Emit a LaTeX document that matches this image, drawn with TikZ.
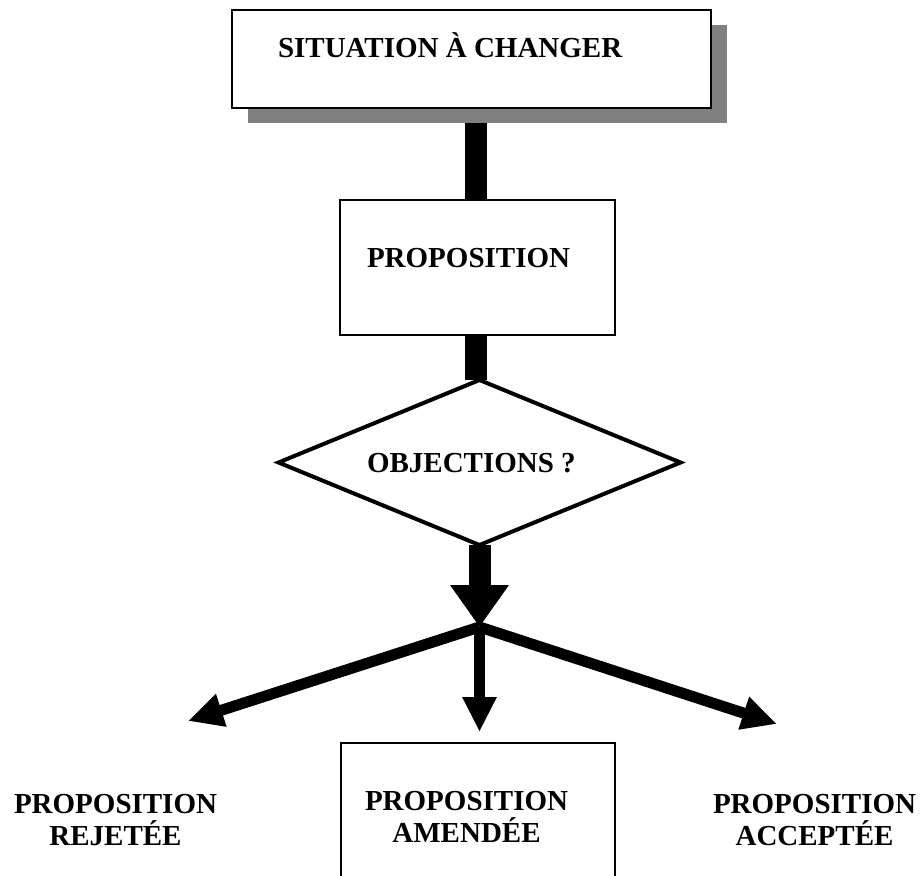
\documentclass[tikz,border=0pt]{standalone}
\usepackage{fontspec}
\setmainfont{Liberation Serif}
\usetikzlibrary{shapes.geometric,arrows.meta,calc,shadows}
\pgfdeclarelayer{background}
\pgfsetlayers{background,main}
\begin{document}
\begin{tikzpicture}[x=1pt,y=-1pt,
  box/.style={draw=black,line width=2.5pt,fill=white,inner sep=0pt,outer sep=0pt},
  lbl/.style={font=\bfseries\fontsize{29}{32}\selectfont,inner sep=0pt,outer sep=0pt},
  bar/.style={line width=22pt,black},
  branch/.style={line width=11pt,black,-{Triangle[length=35pt,width=32pt]}}]
\useasboundingbox (0,0) rectangle (923,875);
\clip (0,0) rectangle (923,875);
\begin{pgfonlayer}{background}
\fill[white] (0,0) rectangle (923,875);
\end{pgfonlayer}
% boxes
\node[box, minimum width=479pt, minimum height=98pt,
      drop shadow={shadow xshift=16pt, shadow yshift=-15pt, fill=black!50, opacity=1}]
      (sit) at (471.5,59) {};
\node[box, minimum width=275pt, minimum height=135pt] (prop) at (477.5,267.5) {};
\node[box, diamond, line width=4pt, minimum width=402pt, minimum height=165pt] (obj) at (479.5,462.5) {};
\node[box, minimum width=274pt, minimum height=200pt] (amend) at (478,843) {};
% texts
\node[lbl, anchor=base west] (sittxt) at (278,58) {SITUATION À CHANGER};
\node[lbl, anchor=base west] (proptxt) at (367,267) {PROPOSITION};
\node[lbl, anchor=base west] (objtxt) at (367,472) {OBJECTIONS ?};
\node[lbl, anchor=base west] (rej1) at (14,813) {PROPOSITION};
\node[lbl, anchor=base] (rej2) at ($(rej1.base)+(0,32)$) {REJETÉE};
\node[lbl, anchor=base west] (am1) at (365,810) {PROPOSITION};
\node[lbl, anchor=base] (am2) at ($(am1.base)+(0,32)$) {AMENDÉE};
\node[lbl, anchor=base west] (acc1) at (713,813) {PROPOSITION};
\node[lbl, anchor=base] (acc2) at ($(acc1.base)+(0,32)$) {ACCEPTÉE};
% thick bars
\begin{pgfonlayer}{background}
\draw[bar] ([xshift=-1.5pt]prop.north) -- ([xshift=-1.5pt]prop.north |- sit.south);
\end{pgfonlayer}
\draw[bar] ([xshift=-1.5pt]prop.south) -- ([xshift=-1.5pt]prop.south |- obj.north);
% block arrow from decision
\coordinate (J) at ($(obj.south)+(0,82)$);
\draw[line width=22pt, black, -{Triangle[length=42pt,width=56pt]}] (obj.south) -- (J);
% branches
\coordinate (rejtip) at (188,721);
\coordinate (acctip) at (777,724);
\draw[branch] (J) -- (rejtip);
\draw[branch] (J) -- (acctip);
\draw[branch] (J) -- ([yshift=11pt]J |- amend.north);
\end{tikzpicture}
\end{document}
